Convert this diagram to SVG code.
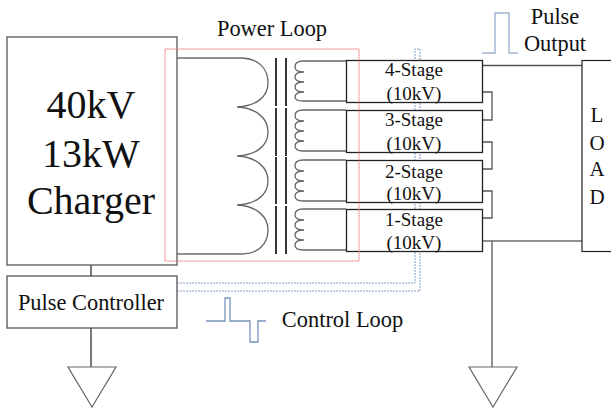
<svg xmlns="http://www.w3.org/2000/svg" width="611" height="408" viewBox="0 0 611 408">
<style>
text{font-family:"Liberation Serif","Times New Roman",serif;fill:#111;text-anchor:middle}
.box{fill:#fff;stroke:#555;stroke-width:1.3}
.stage{fill:#fff;stroke:#222;stroke-width:1.3}
.w{fill:none;stroke:#555;stroke-width:1.3}
.k{fill:none;stroke:#222;stroke-width:1.2}
.coil{fill:none;stroke:#666;stroke-width:1.3}
.core{fill:none;stroke:#222;stroke-width:1.8}
.ctl{fill:none;stroke:#7f9cc6;stroke-width:1;stroke-dasharray:2 1}
.big{font-size:40px}
.st{font-size:19px}
.lab{font-size:22.400px}
.ld{font-size:21px}
.ic{fill:none;stroke:#9db3cf;stroke-width:1.4}
.gnd{fill:#fff;stroke:#666;stroke-width:1.2}
</style>
<rect width="611" height="408" fill="#fff"/>
<g id="connectors">
<path class="ctl" d="M177 283H415V49H420V291H177"/>
<path class="k" d="M91 265V276M91 328V367"/>
<path class="k" d="M177 58H240M177 254H242"/>
<path class="coil" d="M240 58C258 58 268 68 268 83C268 97 256 106 237 107C256 108 268 118 268 132C268 146 256 155 237 156C256 157 268 167 268 181C268 195 256 204 237 205C256 206 268 216 268 230C268 244 258 254 242 254"/>
<path class="core" d="M276 58V106M286 58V106M276 108V156M286 108V156M276 157V204M286 157V204M276 206V254M286 206V254"/>
<path class="coil" d="M346 61H303C297 61 295 64 295 67C295 70 298 72 304 72C298 72 295 74 295 77C295 80 298 82 304 82C298 82 295 84 295 87C295 90 298 92 304 92C298 92 295 94 295 97C295 100 298 101 303 101H346"/>
<path class="coil" d="M346 110H303C297 110 295 113 295 116C295 119 298 121 304 121C298 121 295 123 295 126C295 129 298 131 304 131C298 131 295 133 295 136C295 139 298 141 304 141C298 141 295 143 295 146C295 149 298 151 303 151H346"/>
<path class="coil" d="M346 160H303C297 160 295 163 295 166C295 169 298 171 304 171C298 171 295 173 295 176C295 179 298 181 304 181C298 181 295 183 295 186C295 189 298 191 304 191C298 191 295 193 295 196C295 199 298 201 303 201H346"/>
<path class="coil" d="M346 209H303C297 209 295 212 295 215C295 218 298 220 304 220C298 220 295 222 295 225C295 228 298 230 304 230C298 230 295 232 295 235C295 238 298 240 304 240C298 240 295 242 295 245C295 248 298 250 303 250H346"/>
<path class="w" d="M482 65.500H582"/>
<path class="w" d="M482 92H492V120H482M482 142H492V169H482M482 191H492V218H482"/>
<path class="k" d="M482 241H582"/>
<path class="w" d="M492 241V367"/>
</g>
<g id="stage4"><rect class="stage" x="346.500" y="60.500" width="136" height="42"/><text class="st" x="414" y="76">4-Stage</text><text class="st" x="414" y="100">(10kV)</text></g>
<g id="stage3"><rect class="stage" x="346.500" y="110.500" width="136" height="42"/><text class="st" x="414" y="126">3-Stage</text><text class="st" x="414" y="150">(10kV)</text></g>
<g id="stage2"><rect class="stage" x="346.500" y="160.500" width="136" height="42"/><text class="st" x="414" y="178">2-Stage</text><text class="st" x="414" y="200">(10kV)</text></g>
<g id="stage1"><rect class="stage" x="346.500" y="209.500" width="136" height="42"/><text class="st" x="414" y="226">1-Stage</text><text class="st" x="414" y="249">(10kV)</text></g>
<g id="charger"><rect class="box" x="7" y="37" width="170" height="228"/><text class="big" x="91" y="118">40kV</text><text class="big" x="91" y="167">13kW</text><text class="big" x="91" y="214">Charger</text></g>
<g id="controller"><rect class="box" x="7" y="276" width="170" height="52"/><text class="lab" x="91" y="310">Pulse Controller</text></g>
<g id="load"><rect class="k" x="582" y="60.500" width="40" height="191"/><text class="ld" x="597" y="122">L</text><text class="ld" x="597" y="150">O</text><text class="ld" x="597" y="176">A</text><text class="ld" x="597" y="204">D</text></g>
<g id="power-loop"><rect x="165" y="49" width="194" height="212" fill="none" stroke="#f07878" stroke-width="1" stroke-dasharray="1.500 0.500"/><text class="lab" x="272" y="36">Power Loop</text></g>
<g id="pulse-output"><path class="ic" d="M482 53H495V13H509V53H518"/><text class="lab" x="555" y="24">Pulse</text><text class="lab" x="555" y="51">Output</text></g>
<g id="control-loop"><path d="M206 321H225V298H230V321H250V342H258V321H266" fill="none" stroke="#7794bd" stroke-width="1.300"/><text class="lab" x="342.500" y="327">Control Loop</text></g>
<g id="ground-left"><path class="gnd" d="M68 367H116L92 407Z"/></g>
<g id="ground-right"><path class="gnd" d="M469 367H517L493 407Z"/></g>
</svg>
